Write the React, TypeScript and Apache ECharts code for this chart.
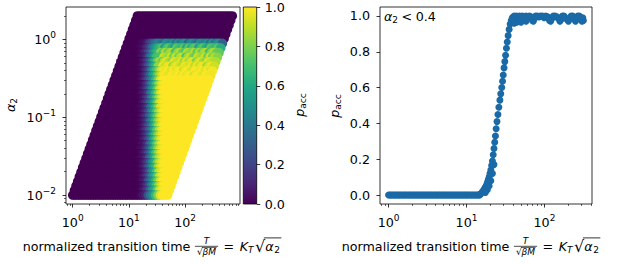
import React, { useEffect, useRef } from "react";
import * as echarts from "echarts";

// ---------------- data ----------------
// left panel: grid of alpha_2 rows and K_T columns; x = K_T * sqrt(alpha_2)
const alpha2Rows = [0.01, 0.0115, 0.0131, 0.015, 0.0172, 0.0197, 0.0226, 0.0259, 0.0297, 0.034, 0.0389, 0.0446, 0.0511, 0.0585, 0.0671, 0.0768, 0.088, 0.101, 0.116, 0.132, 0.152, 0.174, 0.199, 0.228, 0.261, 0.299, 0.343, 0.393, 0.45, 0.516, 0.591, 0.677, 0.776, 0.889, 1.02, 1.17, 1.34, 1.53, 1.75, 2.0];
const kTValues = [10, 11, 12.2, 13.5, 14.9, 16.5, 18.2, 20.1, 22.2, 24.5, 27.1, 30, 33.1, 36.6, 40.4, 44.7, 49.3, 54.5, 60.2, 66.5, 73.5, 81.2, 89.8, 99.2, 110, 121, 134, 148, 163, 180, 199, 220, 243, 269, 297, 328, 363, 401, 443, 490];
const pReadX = [1, 15, 16, 17, 18, 19, 20, 21, 22, 23, 24, 25, 26, 27, 28, 29, 30, 31, 32, 33, 34, 35, 36, 38, 40];
const pReadP = [0, 0.005, 0.018, 0.035, 0.055, 0.085, 0.12, 0.165, 0.225, 0.295, 0.37, 0.43, 0.49, 0.55, 0.6, 0.65, 0.7, 0.745, 0.79, 0.84, 0.88, 0.915, 0.945, 0.975, 1.0];
// upper rows (alpha_2 close to 1) are less accepted and noisier
const upperRowsAlpha = [0.343, 0.393, 0.45, 0.516, 0.591, 0.677, 0.776, 0.889];
const upperRowScale = [1, 1, 0.98, 0.96, 0.92, 0.88, 0.74, 0.5];
const upperRowNoise = [0.3, 0.4, 0.6, 0.8, 1, 1, 1, 1];
const noisePattern = [0, -0.12, -0.03, 0, -0.2, -0.06, 0, -0.1, -0.16, 0, -0.04, -0.08, 0, -0.14];
const edgeAlpha = [0.516, 0.591, 0.677, 0.776, 0.889];
const edgeP = [0.88, 0.82, 0.75, 0.62, 0.3];

// right panel: alpha_2 < 0.4
const flatX = [1.0, 1.04, 1.08, 1.12, 1.17, 1.21, 1.26, 1.31, 1.36, 1.41, 1.47, 1.53, 1.59, 1.65, 1.72, 1.79, 1.86, 1.93, 2.01, 2.09, 2.17, 2.26, 2.34, 2.44, 2.53, 2.63, 2.73, 2.84, 2.95, 3.07, 3.19, 3.32, 3.45, 3.58, 3.72, 3.87, 4.02, 4.18, 4.34, 4.51, 4.69, 4.88, 5.07, 5.27, 5.47, 5.69, 5.91, 6.14, 6.38, 6.63, 6.89, 7.16, 7.45, 7.74, 8.04, 8.36, 8.69, 9.03, 9.38, 9.75, 10.1, 10.5, 10.9, 11.4, 11.8, 12.3, 12.8, 13.3, 13.8, 14.3, 14.8];
const riseX = [15.0, 15.5, 16.0, 16.5, 17.0, 17.5, 18.0, 18.5, 19.0, 19.5, 20.0, 20.5, 21.0, 21.5, 22.0, 22.5, 23.0, 23.5, 24.0, 24.6, 25.3, 26.0, 26.8, 27.5, 28.3, 29.0, 29.6, 30.3, 31.0, 31.7, 32.5, 33.3, 34.2, 35.2, 36.3, 37.5, 38.7, 40.0, 17.5, 18.5, 19.5, 20.5, 21.5, 22.5];
const riseP = [0.005, 0.01, 0.018, 0.025, 0.035, 0.045, 0.055, 0.07, 0.085, 0.1, 0.12, 0.14, 0.165, 0.19, 0.225, 0.26, 0.295, 0.33, 0.37, 0.41, 0.45, 0.49, 0.53, 0.565, 0.6, 0.635, 0.67, 0.71, 0.745, 0.78, 0.82, 0.855, 0.89, 0.925, 0.955, 0.975, 0.99, 0.995, 0.015, 0.03, 0.05, 0.08, 0.12, 0.17];
const plateauX = [41, 42.5, 44, 46, 48, 50, 52, 55, 58, 61, 64, 67, 70, 72, 74, 77, 81, 85, 89, 94, 99, 104, 110, 116, 120, 124, 130, 137, 144, 152, 158, 163, 170, 178, 186, 195, 203, 210, 220, 230, 240, 250, 258, 268, 280, 292, 303, 310, 316, 38.5, 41, 44, 47, 50, 54, 58];
const plateauP = [1.0, 0.985, 1.0, 0.99, 1.0, 0.985, 1.0, 0.995, 1.0, 0.99, 1.0, 0.995, 0.975, 0.97, 0.985, 1.0, 1.0, 0.995, 1.0, 1.0, 0.99, 1.0, 0.995, 0.975, 0.97, 0.985, 1.0, 1.0, 0.995, 0.985, 0.97, 0.98, 1.0, 1.0, 0.99, 0.98, 0.97, 0.985, 1.0, 1.0, 0.99, 0.97, 0.985, 1.0, 1.0, 0.99, 0.97, 0.99, 0.975, 0.965, 0.96, 0.965, 0.97, 0.965, 0.975, 0.97];

const logExponents = [0, 1, 2];
const alphaExponents = [-2, -1, 0];
const pTicks = [0, 0.2, 0.4, 0.6, 0.8, 1.0];

const viridis = ["#440154", "#482475", "#414487", "#355f8d", "#2a788e", "#21918c", "#22a884", "#44bf70", "#7ad151", "#bddf26", "#fde725"];

// ---------------- helpers ----------------
const FF = '"DejaVu Sans", "Liberation Sans", sans-serif';
const S = 12.7;
const SS = 9;
let measureCtx: CanvasRenderingContext2D | null = null;
function tw(t: string, size: number, italic = false): number {
  if (!measureCtx) measureCtx = document.createElement("canvas").getContext("2d");
  if (!measureCtx) return t.length * size * 0.6;
  measureCtx.font = `${italic ? "italic " : ""}${size}px ${FF}`;
  return measureCtx.measureText(t).width;
}
function txt(t: string, x: number, baseline: number, size: number, italic = false, align = "left"): any {
  return {
    type: "text", x, y: baseline - 0.346 * size, silent: true,
    style: {
      text: t, fill: "#000", fontSize: size, fontFamily: FF, fontStyle: italic ? "italic" : "normal",
      align, verticalAlign: "middle", textAlign: align, textVerticalAlign: "middle",
    },
  };
}
function ln(x1: number, y1: number, x2: number, y2: number, w = 0.8): any {
  return { type: "line", silent: true, shape: { x1, y1, x2, y2 }, style: { stroke: "#000", lineWidth: w } };
}
type Piece = { t: string; size: number; italic?: boolean; dy?: number; gap?: number };
function run(pieces: Piece[], x0: number, base: number, out: any[]): number {
  let x = x0;
  for (const p of pieces) {
    out.push(txt(p.t, x, base + (p.dy || 0), p.size, !!p.italic));
    x += tw(p.t, p.size, !!p.italic) + (p.gap || 0);
  }
  return x;
}
function runWidth(pieces: Piece[]): number {
  return pieces.reduce((s, p) => s + tw(p.t, p.size, !!p.italic) + (p.gap || 0), 0);
}
function xLabel(x0: number, base: number): any[] {
  const els: any[] = [];
  let x = run([{ t: "normalized transition time", size: S }], x0, base, els);
  x += 4.5;
  const wSq = tw("\u221A", SS);
  const wBM = tw("\u03B2M", SS, true);
  const fw = wSq + wBM + 4;
  const barY = base - 4.2;
  els.push(ln(x, barY, x + fw, barY, 0.7));
  els.push(txt("T", x + fw / 2, barY - 2, SS, true, "center"));
  const dBase = barY + 8.8;
  els.push(txt("\u221A", x + 2, dBase, SS));
  els.push(txt("\u03B2M", x + 2 + wSq, dBase, SS, true));
  els.push(ln(x + 2 + wSq - 0.6, dBase - 7.6, x + 2 + wSq + wBM + 0.5, dBase - 7.6, 0.6));
  x += fw + 5.5;
  x = run([{ t: "=", size: S, gap: 5.5 }], x, base, els);
  x = run([{ t: "K", size: S, italic: true }, { t: "T", size: SS, italic: true, dy: 2.6, gap: 1.5 }], x, base, els);
  const rs = 16;
  els.push(txt("\u221A", x, base + 1.8, rs));
  x += tw("\u221A", rs);
  const ov0 = x - 1.4;
  x = run([{ t: "\u03B1", size: S, italic: true, gap: 0.5 }, { t: "2", size: SS, dy: 2.6, gap: 1.5 }], x, base, els);
  els.push(ln(ov0, base - 12.6, x, base - 12.6, 0.8));
  return els;
}
function rotLabel(cx: number, cy: number, pieces: Piece[]): any {
  const w = runWidth(pieces);
  const children: any[] = [];
  run(pieces, -w / 2, 3.4, children);
  return { type: "group", x: cx, y: cy, rotation: Math.PI / 2, children };
}
function minorTicks(lo: number, hi: number): number[] {
  const out: number[] = [];
  for (let d = Math.floor(lo) - 1; d <= Math.ceil(hi); d++) {
    for (let k = 2; k <= 9; k++) {
      const v = d + Math.log10(k);
      if (v >= lo && v <= hi) out.push(v);
    }
  }
  return out;
}
function lookupP(x: number): number {
  let p = 0;
  for (let i = 0; i < pReadX.length; i++) if (x >= pReadX[i]) p = pReadP[i];
  return p;
}

function buildLeftData(): number[][] {
  const data: number[][] = [];
  for (let i = alpha2Rows.length - 1; i >= 0; i--) {
    const a = alpha2Rows[i];
    const u = upperRowsAlpha.indexOf(a);
    const e = edgeAlpha.indexOf(a);
    for (let j = 0; j < kTValues.length; j++) {
      const x = kTValues[j] * Math.sqrt(a);
      let p = a > 1 ? 0 : lookupP(x);
      if (u >= 0) {
        const base = p;
        p = base * upperRowScale[u];
        if (base > 0.8) p += upperRowNoise[u] * noisePattern[(j + 5 * u) % noisePattern.length];
      }
      if (e >= 0 && j === kTValues.length - 1) p = edgeP[e];
      p = Math.max(0, Math.min(1, p));
      data.push([Math.log10(x), Math.log10(a), p]);
    }
  }
  return data;
}
function buildRightData(): number[][] {
  const d: number[][] = [];
  flatX.forEach((x) => d.push([Math.log10(x), 0]));
  riseX.forEach((x, i) => d.push([Math.log10(x), riseP[i]]));
  plateauX.forEach((x, i) => d.push([Math.log10(x), plateauP[i]]));
  return d;
}

const powRich = {
  b: { fontSize: S, fontFamily: FF, lineHeight: 18, color: "#000" },
  s: { fontSize: SS, fontFamily: FF, lineHeight: 9, verticalAlign: "top", color: "#000" },
};
const powFmt = (v: number) => {
  const e = Math.round(v);
  return `{b|10}{s|${e < 0 ? "\u2212" + -e : e}}`;
};
const tickLine = { color: "#000", width: 0.8 };

function mainAxis(gridIndex: number, position: string, min: number, max: number, ticks: number[], fmt: any, margin: number, rich?: any): any {
  return {
    type: "value", gridIndex, position, min, max,
    axisLine: { show: false, onZero: false }, splitLine: { show: false },
    axisTick: { show: true, customValues: ticks, length: 3.5, lineStyle: tickLine },
    axisLabel: { show: true, customValues: ticks, formatter: fmt, margin, color: "#000", fontSize: S, fontFamily: FF, ...(rich ? { rich } : {}) },
  };
}
function minorAxis(gridIndex: number, position: string, min: number, max: number): any {
  return {
    type: "value", gridIndex, position, min, max,
    axisLine: { show: false, onZero: false }, splitLine: { show: false }, axisLabel: { show: false },
    axisTick: { show: true, customValues: minorTicks(min, max), length: 2, lineStyle: { color: "#000", width: 0.6 } },
  };
}

function buildOption(): any {
  const LX = [-0.119, 2.977];
  const LY = [-2.115, 0.416];
  const RX = [-0.11, 2.61];
  const RY = [-0.05, 1.05];
  const graphic: any[] = [
    {
      type: "rect", silent: true, z: 1,
      shape: { x: 243.3, y: 7, width: 13.4, height: 197 },
      style: {
        fill: new echarts.graphic.LinearGradient(0, 1, 0, 0, viridis.map((c, i) => ({ offset: i / (viridis.length - 1), color: c }))),
        stroke: "#000", lineWidth: 0.8,
      },
    },
    ...xLabel(22.7, 250.5),
    ...xLabel(341.7, 250.5),
    rotLabel(11, 105, [{ t: "\u03B1", size: S, italic: true }, { t: "2", size: SS, dy: 2.6 }]),
    rotLabel(300, 105, [{ t: "p", size: S, italic: true }, { t: "acc", size: SS, dy: 2.6 }]),
    rotLabel(335, 106, [{ t: "p", size: S, italic: true }, { t: "acc", size: SS, dy: 2.6 }]),
  ];
  const ann: any[] = [];
  run([{ t: "\u03B1", size: S, italic: true }, { t: "2", size: SS, dy: 2.6, gap: 3.5 }, { t: "<", size: S, gap: 3.5 }, { t: "0.4", size: S }], 384, 21, ann);
  graphic.push(...ann);

  return {
    animation: false,
    backgroundColor: "#fff",
    textStyle: { fontFamily: FF },
    grid: [
      { left: 66, top: 7, width: 174, height: 197, show: true, borderColor: "#000", borderWidth: 0.8, backgroundColor: "transparent" },
      { left: 243.3, top: 7, width: 13.4, height: 197, show: false },
      { left: 380, top: 7, width: 212, height: 197, show: true, borderColor: "#000", borderWidth: 0.8, backgroundColor: "transparent" },
    ],
    xAxis: [
      mainAxis(0, "bottom", LX[0], LX[1], logExponents, powFmt, 9, powRich),
      minorAxis(0, "bottom", LX[0], LX[1]),
      { type: "value", gridIndex: 1, min: 0, max: 1, show: false },
      mainAxis(2, "bottom", RX[0], RX[1], logExponents, powFmt, 9, powRich),
      minorAxis(2, "bottom", RX[0], RX[1]),
    ],
    yAxis: [
      mainAxis(0, "left", LY[0], LY[1], alphaExponents, powFmt, 10, powRich),
      minorAxis(0, "left", LY[0], LY[1]),
      mainAxis(1, "right", 0, 1, pTicks, (v: number) => v.toFixed(1), 8),
      mainAxis(2, "left", RY[0], RY[1], pTicks, (v: number) => v.toFixed(1), 10),
    ],
    visualMap: [
      { type: "continuous", show: false, seriesIndex: 0, dimension: 2, min: 0, max: 1, inRange: { color: viridis } },
    ],
    series: [
      {
        type: "scatter", xAxisIndex: 0, yAxisIndex: 0, data: buildLeftData(),
        symbol: "circle", symbolSize: 9.5, progressive: 0, large: false, silent: true,
        itemStyle: { opacity: 1 },
      },
      {
        type: "scatter", xAxisIndex: 3, yAxisIndex: 3, data: buildRightData(),
        symbol: "circle", symbolSize: 7, progressive: 0, large: false, silent: true,
        itemStyle: { color: "#1a6aa7", opacity: 1 },
      },
    ],
    graphic,
  };
}

export default function App() {
  const ref = useRef<HTMLDivElement>(null);
  useEffect(() => {
    if (!ref.current) return;
    const chart = echarts.init(ref.current, null, { renderer: "svg" });
    chart.setOption(buildOption());
    return () => chart.dispose();
  }, []);
  return <div ref={ref} style={{ position: "absolute", left: 0, top: 0, width: 617, height: 264 }} />;
}
